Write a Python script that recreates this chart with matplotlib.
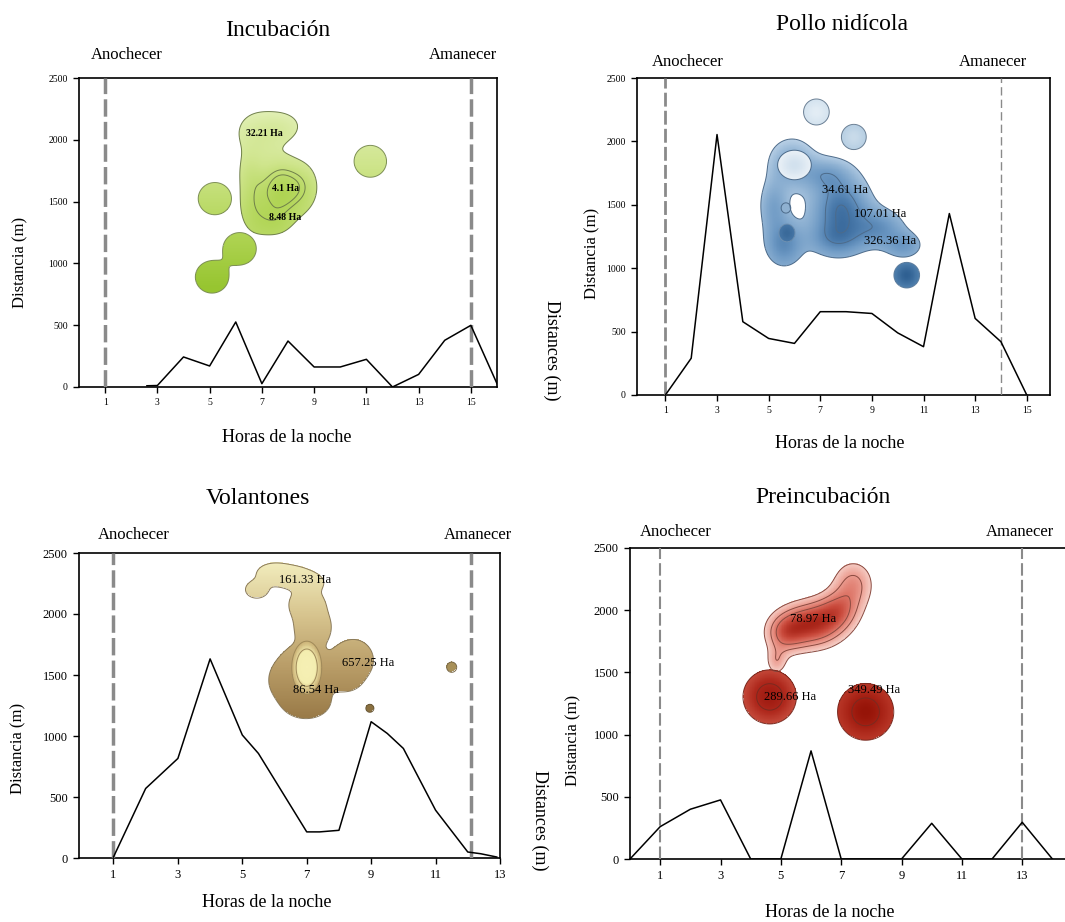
import numpy as np
import matplotlib
matplotlib.use('Agg')
import matplotlib.pyplot as plt
from matplotlib.colors import LinearSegmentedColormap

plt.rcParams['font.family'] = ['Liberation Serif', 'DejaVu Serif']

# ---- distance per hour of the night (black lines) ----
inc_hours = [2.6, 3, 4, 5, 6, 7, 8, 9, 10, 11, 12, 13, 14, 15, 16]
inc_dist = [10, 12, 243, 170, 526, 27, 372, 162, 162, 224, 0, 102, 378, 499, 27]

pol_hours = [1, 2, 3, 4, 5, 6, 7, 8, 9, 10, 11, 12, 13, 14, 15]
pol_dist = [0, 290, 2054, 578, 446, 407, 657, 657, 643, 490, 381, 1431, 604, 420, 0]

vol_hours = [1, 2, 2.5, 3, 4, 5, 5.5, 7, 7.4, 8, 9, 9.5, 10, 11, 12, 12.4, 12.9]
vol_dist = [8, 570, 693, 816, 1632, 1008, 857, 214, 214, 227, 1117, 1021, 898, 392, 49, 35, 8]

pre_hours = [0, 1, 2, 3, 4, 5, 6, 7, 8, 9, 10, 11, 12, 13, 14]
pre_dist = [0, 260, 400, 475, 0, 0, 869, 0, 0, 0, 287, 0, 0, 295, 0]

# dusk / dawn hour
inc_dusk_dawn = [1, 15]
pol_dusk_dawn = [1, 14]
vol_dusk_dawn = [1, 12.1]
pre_dusk_dawn = [1, 13]

# x tick labels
inc_ticks = [1, 3, 5, 7, 9, 11, 13, 15]
pol_ticks = [1, 3, 5, 7, 9, 11, 13, 15]
vol_ticks = [1, 3, 5, 7, 9, 11, 13]
pre_ticks = [1, 3, 5, 7, 9, 11, 13]
dist_ticks = [0, 500, 1000, 1500, 2000, 2500]

# ---- kernel home-range centres: hour, distance, spread (h), spread (m), weight, group ----
inc_kx = [7.75, 6.9, 7.8, 8.6, 6.7, 7.4, 6.55, 11.15, 5.2, 6.15, 5.09]
inc_ky = [1600, 2060, 2110, 1620, 1480, 1350, 1760, 1826, 1524, 1119, 890]
inc_ksx = [0.55, 0.6, 0.5, 0.38, 0.38, 0.45, 0.32, 0.40, 0.41, 0.41, 0.41]
inc_ksy = [150, 120, 80, 120, 150, 85, 120, 83, 84, 84, 84]
inc_kw = [1.3, 0.55, 0.42, 0.45, 0.55, 0.45, 0.4, 1, 1, 1, 1]
inc_kg = [0, 0, 0, 0, 0, 0, 0, 1, 2, 3, 3]

pol_kx = [5.9, 5.2, 5.6, 7.8, 7.2, 9.3, 10.25, 7.6, 6.0, 5.67, 5.71, 6.85, 8.3, 10.35]
pol_ky = [1830, 1500, 1200, 1460, 1740, 1320, 1180, 1230, 1814, 1475, 1278, 2232, 2035, 945]
pol_ksx = [0.6, 0.38, 0.5, 0.75, 0.65, 0.65, 0.5, 0.7, 0.42, 0.12, 0.2, 0.32, 0.31, 0.32]
pol_ksy = [130, 140, 125, 180, 90, 100, 75, 90, 75, 26, 45, 66, 64, 65]
pol_kw = [1.0, 0.8, 1.0, 1.6, 0.8, 0.9, 0.7, 0.7, 1, 1, 1, 1, 1, 1]
pol_kg = [0, 0, 0, 0, 0, 0, 0, 0, 1, 2, 3, 4, 5, 6]

vol_kx = [5.45, 6.0, 6.6, 7.1, 7.0, 7.2, 6.9, 6.4, 7.0, 8.45, 8.2, 7.0, 8.96, 11.5]
vol_ky = [2200, 2330, 2300, 2260, 2080, 1900, 1500, 1450, 1270, 1620, 1450, 1560, 1227, 1564]
vol_ksx = [0.25, 0.35, 0.35, 0.3, 0.35, 0.35, 0.5, 0.35, 0.45, 0.4, 0.3, 0.3, 0.08, 0.1]
vol_ksy = [50, 55, 55, 50, 80, 90, 150, 90, 80, 110, 60, 140, 21, 27]
vol_kw = [0.8, 1, 1, 0.7, 1, 1, 1.3, 0.7, 0.8, 1, 0.6, 1, 1, 1]
vol_kg = [0, 0, 0, 0, 0, 0, 0, 0, 0, 0, 0, 1, 2, 3]

pre_kx = [6.0, 6.9, 7.4, 5.1, 4.85, 4.63, 7.81]
pre_ky = [1880, 2000, 2210, 1800, 1580, 1303, 1183]
pre_ksx = [0.75, 0.5, 0.5, 0.45, 0.25, 0.57, 0.6]
pre_ksy = [130, 110, 140, 110, 80, 140, 147]
pre_kw = [1.0, 0.5, 0.55, 0.5, 0.4, 1, 1]
pre_kg = [0, 0, 0, 0, 0, 1, 2]

# ---- area labels ----
inc_lab = ['32.21 Ha', '4.1 Ha', '8.48 Ha']
inc_lab_x = [7.08, 7.9, 7.89]
inc_lab_y = [2055, 1610, 1375]
pol_lab = ['34.61 Ha', '107.01 Ha', '326.36 Ha']
pol_lab_x = [7.96, 9.31, 9.7]
pol_lab_y = [1617, 1427, 1214]
vol_lab = ['161.33 Ha', '657.25 Ha', '86.54 Ha']
vol_lab_x = [6.95, 8.9, 7.3]
vol_lab_y = [2278, 1597, 1378]
pre_lab = ['78.97 Ha', '289.66 Ha', '349.49 Ha']
pre_lab_x = [6.08, 5.3, 8.1]
pre_lab_y = [1931, 1303, 1360]

W, H = 1065, 922
fig = plt.figure(figsize=(W / 100, H / 100), dpi=100)


def add_panel(l, t, r, b):
    return fig.add_axes([l / W, 1 - b / H, (r - l) / W, (b - t) / H])


def draw_group(ax, xlim, kx, ky, ksx, ksy, kw, thr, lines, colors, ga, gb, ytop, ybot, edge):
    gx = np.linspace(xlim[0], xlim[1], 700)
    gy = np.linspace(0, 2500, 700)
    X, Y = np.meshgrid(gx, gy)
    F = np.zeros_like(X)
    for x0, y0, sx, sy, w in zip(kx, ky, ksx, ksy, kw):
        F += w * np.exp(-0.5 * (((X - x0) / sx) ** 2 + ((Y - y0) / sy) ** 2))
    dens = (F - thr) / (F.max() - thr)
    c = ga * (ytop - Y) / (ytop - ybot) + gb * dens
    c = np.ma.masked_where(F < thr, np.clip(c, 0, 1))
    cmap = LinearSegmentedColormap.from_list('blob', colors)
    ax.imshow(c, extent=(xlim[0], xlim[1], 0, 2500), origin='lower', aspect='auto',
              cmap=cmap, vmin=0, vmax=1, interpolation='nearest', zorder=1)
    ax.contour(X, Y, F, levels=[thr] + lines, colors=edge, linewidths=0.7, zorder=2)


def draw_blobs(ax, xlim, kx, ky, ksx, ksy, kw, kg, styles):
    kg = np.array(kg)
    for g, st in enumerate(styles):
        idx = np.where(kg == g)[0]
        draw_group(ax, xlim, [kx[i] for i in idx], [ky[i] for i in idx],
                   [ksx[i] for i in idx], [ksy[i] for i in idx], [kw[i] for i in idx], **st)


def style_panel(ax, xlim, hours, dist, dusk_dawn, ticks, dash_lw, dash_ls, tick_fs):
    ax.plot(hours, dist, color='black', lw=1.1, zorder=4)
    for i, h in enumerate(dusk_dawn):
        ax.axvline(h, color='#8a8a8a', lw=dash_lw[i], ls=dash_ls[i], zorder=3)
    ax.set_xticks(ticks)
    ax.set_yticks(dist_ticks)
    ax.set_xlim(*xlim)
    ax.set_ylim(0, 2500)
    ax.tick_params(direction='out', length=4, width=1, labelsize=tick_fs, pad=4)
    for s in ax.spines.values():
        s.set_linewidth(1.2)


GREEN = ['#e4f1bb', '#cfe58c', '#b3d659', '#97c530']
ax1 = add_panel(79, 78, 497, 387)
x1 = (0, 16)
g1 = dict(thr=0.3, lines=[], colors=GREEN, ga=1.0, gb=0.0, ytop=2300, ybot=800, edge='#7d8f55')
draw_blobs(ax1, x1, inc_kx, inc_ky, inc_ksx, inc_ksy, inc_kw, inc_kg, [
    dict(thr=0.25, lines=[0.78, 1.0], colors=GREEN, ga=0.85, gb=0.3, ytop=2300, ybot=800, edge='#6f7f4a'),
    g1, g1, g1])
style_panel(ax1, x1, inc_hours, inc_dist, inc_dusk_dawn, inc_ticks, [2.5, 2.5],
            [(0, (5, 1.5)), (0, (5, 1.5))], 7)
for t, x, y in zip(inc_lab, inc_lab_x, inc_lab_y):
    ax1.text(x, y, t, fontsize=7, ha='center', va='center', fontweight='bold', zorder=5)

BLUE = ['#b9d0e6', '#8fb2d3', '#6d99c4', '#4a7aab', '#2f5f92']
ax2 = add_panel(637, 78, 1050, 395)
x2 = (-0.1, 15.9)
draw_blobs(ax2, x2, pol_kx, pol_ky, pol_ksx, pol_ksy, pol_kw, pol_kg, [
    dict(thr=0.35, lines=[1.2, 1.6], colors=BLUE, ga=0.35, gb=0.65, ytop=2000, ybot=1000, edge='#4d6b8a'),
    dict(thr=0.3, lines=[], colors=['#eaf1f7', '#d2e1ee'], ga=0, gb=1, ytop=2000, ybot=1000, edge='#4d6b8a'),
    dict(thr=0.3, lines=[], colors=['#8fb1d1', '#8fb1d1'], ga=0, gb=1, ytop=2000, ybot=1000, edge='#4d6b8a'),
    dict(thr=0.3, lines=[], colors=['#4676a6', '#3a6a9a'], ga=0, gb=1, ytop=2000, ybot=1000, edge='#6d8fb0'),
    dict(thr=0.3, lines=[], colors=['#d4e3ef', '#e3edf5'], ga=0, gb=1, ytop=2000, ybot=1000, edge='#6a7f94'),
    dict(thr=0.3, lines=[], colors=['#b7cfe3', '#c9dbea'], ga=0, gb=1, ytop=2000, ybot=1000, edge='#6a7f94'),
    dict(thr=0.3, lines=[], colors=['#4f7fad', '#2f6092'], ga=0, gb=1, ytop=2000, ybot=1000, edge='#5f7f9f'),
])
style_panel(ax2, x2, pol_hours, pol_dist, pol_dusk_dawn, pol_ticks, [2.0, 1.0],
            [(0, (5, 1.5)), (0, (6, 3))], 7)
for t, x, y in zip(pol_lab, pol_lab_x, pol_lab_y):
    ax2.text(x, y, t, fontsize=9, ha='center', va='center', zorder=5)

BROWN = ['#9a7b48', '#b99d68', '#d7c48e', '#f1ebbb']
ax3 = add_panel(79, 553, 500, 858)
x3 = (-0.07, 13)
draw_blobs(ax3, x3, vol_kx, vol_ky, vol_ksx, vol_ksy, vol_kw, vol_kg, [
    dict(thr=0.3, lines=[], colors=BROWN, ga=1.0, gb=0.0, ytop=1150, ybot=2400, edge='#8a7a5a'),
    dict(thr=0.3, lines=[0.55], colors=['#c8ad72', '#f4eeb0', '#f6f0b4'], ga=0, gb=1, ytop=2000, ybot=1000, edge='#a08a5a'),
    dict(thr=0.3, lines=[], colors=['#8a7040', '#8a7040'], ga=0, gb=1, ytop=2000, ybot=1000, edge='#6a5a3a'),
    dict(thr=0.3, lines=[], colors=['#a89058', '#a89058'], ga=0, gb=1, ytop=2000, ybot=1000, edge='#7a6a4a'),
])
style_panel(ax3, x3, vol_hours, vol_dist, vol_dusk_dawn, vol_ticks, [2.5, 2.5],
            [(0, (5, 1.5)), (0, (5, 1.5))], 9)
for t, x, y in zip(vol_lab, vol_lab_x, vol_lab_y):
    ax3.text(x, y, t, fontsize=9, ha='center', va='center', zorder=5)

RED = ['#f6cec6', '#eda195', '#dd7567', '#c8483a', '#a82418']
ax4 = add_panel(630, 548, 1069, 859)
x4 = (0, 14.55)
draw_blobs(ax4, x4, pre_kx, pre_ky, pre_ksx, pre_ksy, pre_kw, pre_kg, [
    dict(thr=0.28, lines=[0.5, 0.7], colors=RED, ga=0, gb=1.0, ytop=2000, ybot=1000, edge='#8a4a40'),
    dict(thr=0.3, lines=[0.75], colors=['#c4493a', '#b02a1e', '#a01c12'], ga=0, gb=1.0, ytop=2000, ybot=1000, edge='#7a2a20'),
    dict(thr=0.3, lines=[0.75], colors=['#b83627', '#a82316', '#961408'], ga=0, gb=1.0, ytop=2000, ybot=1000, edge='#7a2a20'),
])
style_panel(ax4, x4, pre_hours, pre_dist, pre_dusk_dawn, pre_ticks, [1.5, 1.5],
            [(0, (6, 2)), (0, (6, 2))], 9)
for t, x, y in zip(pre_lab, pre_lab_x, pre_lab_y):
    ax4.text(x, y, t, fontsize=9, ha='center', va='center', zorder=5)


# ---- titles and labels (figure pixels) ----
def ftext(x, y, s, **kw):
    fig.text(x / W, 1 - y / H, s, ha='center', va='center', **kw)


ftext(278, 30, 'Incubación', fontsize=17)
ftext(842, 25, 'Pollo nidícola', fontsize=17)
ftext(258, 498, 'Volantones', fontsize=17)
ftext(823, 497, 'Preincubación', fontsize=17)

for x, y in [(127, 55), (688, 62), (134, 535), (676, 532)]:
    ftext(x, y, 'Anochecer', fontsize=12)
for x, y in [(463, 55), (993, 62), (478, 535), (1020, 532)]:
    ftext(x, y, 'Amanecer', fontsize=12)

for x, y in [(287, 437), (840, 443), (267, 902), (830, 912)]:
    ftext(x, y, 'Horas de la noche', fontsize=13)
for x, y in [(20, 262), (592, 253), (18, 748), (573, 740)]:
    ftext(x, y, 'Distancia (m)', fontsize=12, rotation=90)
for x, y in [(552, 350), (540, 820)]:
    ftext(x, y, 'Distances (m)', fontsize=13, rotation=270)

fig.savefig('out.png', dpi=100)
